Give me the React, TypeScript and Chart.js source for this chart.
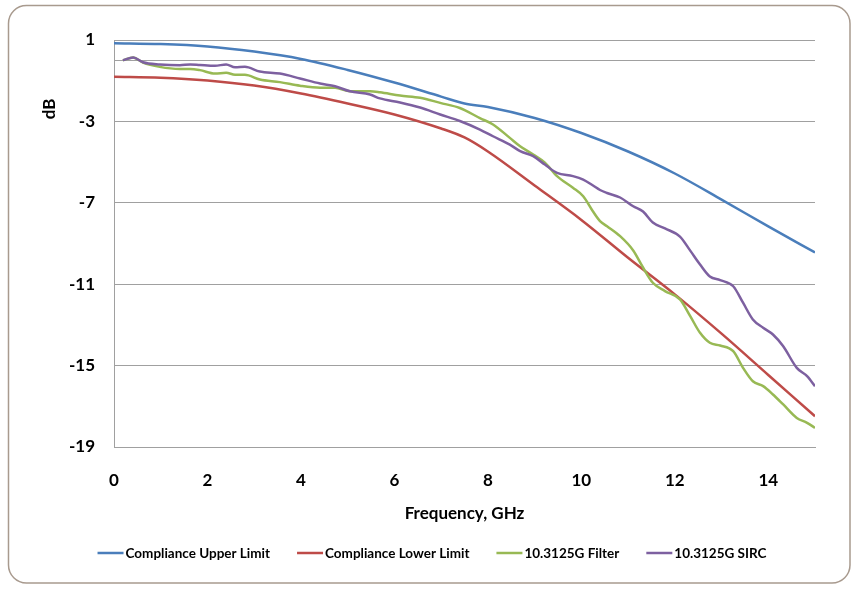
import React, { useEffect, useRef } from "react";
import { Chart, registerables } from "chart.js";

Chart.register(...registerables);

// Series names and line colours
const seriesNames = [
  "Compliance Upper Limit",
  "Compliance Lower Limit",
  "10.3125G Filter",
  "10.3125G SIRC",
];
const seriesColors = ["#4A7EBB", "#BE4B48", "#98B954", "#7D60A0"];

// Compliance mask (GHz / dB)
const limitFreq = [0, 1, 2, 3, 4, 5, 6, 7, 7.5, 8, 9, 10, 11, 12, 13, 14, 15];
const upperLimitDb = [
  0.84, 0.8, 0.68, 0.43, 0.07, -0.47, -1.09, -1.78, -2.12, -2.29, -2.83, -3.57,
  -4.48, -5.56, -6.84, -8.16, -9.44,
];
const lowerLimitDb = [
  -0.8, -0.85, -0.99, -1.24, -1.63, -2.12, -2.66, -3.35, -3.79, -4.48, -6.15,
  -7.84, -9.7, -11.5, -13.43, -15.46, -17.49,
];

// Measured responses (GHz / dB)
const measFreq = [
  0.19, 0.41, 0.62, 0.98, 1.41, 1.63, 1.84, 2.16, 2.4, 2.59, 2.8, 3.12, 3.55,
  3.98, 4.41, 4.73, 5.05, 5.48, 5.69, 6.12, 6.55, 6.98, 7.4, 7.83, 8.11, 8.47,
  8.69, 8.97, 9.22, 9.48, 9.82, 10.04, 10.25, 10.4, 10.55, 10.83, 11.11, 11.32,
  11.53, 11.79, 12.11, 12.33, 12.54, 12.75, 12.97, 13.25, 13.46, 13.67, 13.89,
  14.1, 14.32, 14.61, 14.83, 15.0,
];
const filterDb = [
  0.0, 0.14, -0.11, -0.32, -0.42, -0.42, -0.48, -0.65, -0.61, -0.71, -0.71,
  -0.94, -1.07, -1.25, -1.35, -1.35, -1.52, -1.52, -1.57, -1.73, -1.84, -2.09,
  -2.34, -2.84, -3.15, -3.81, -4.22, -4.63, -5.03, -5.69, -6.26, -6.68, -7.43,
  -7.9, -8.15, -8.64, -9.34, -10.18, -10.93, -11.34, -11.75, -12.57, -13.39,
  -13.88, -14.01, -14.29, -15.11, -15.77, -16.01, -16.42, -16.91, -17.57,
  -17.81, -18.06,
];
const sircDb = [
  0.01, 0.14, -0.09, -0.2, -0.24, -0.2, -0.23, -0.27, -0.2, -0.34, -0.32, -0.55,
  -0.65, -0.89, -1.14, -1.27, -1.52, -1.68, -1.87, -2.07, -2.32, -2.66, -2.98,
  -3.4, -3.73, -4.14, -4.46, -4.71, -5.12, -5.53, -5.69, -5.86, -6.15, -6.37,
  -6.52, -6.74, -7.17, -7.43, -7.97, -8.26, -8.66, -9.35, -10.03, -10.62,
  -10.8, -11.1, -11.91, -12.73, -13.14, -13.47, -14.05, -15.11, -15.52, -16.01,
];

// Axis ticks
const xTickValues = [0, 2, 4, 6, 8, 10, 12, 14];
const yTickValues = [-19, -15, -11, -7, -3, 1];
const yExtraGridValues = [0];

const FONT = "Lato, 'Open Sans', sans-serif";
const GRID = "#A0A0A0";

const toPoints = (xs: number[], ys: number[]) =>
  xs.map((x, i) => ({ x, y: ys[i] }));

const decorPlugin = {
  id: "decor",
  beforeDraw(chart: any) {
    const ctx = chart.ctx as CanvasRenderingContext2D;
    ctx.save();
    ctx.fillStyle = "#ffffff";
    ctx.fillRect(0, 0, chart.width, chart.height);
    const x0 = 8.5, y0 = 5.5, x1 = 850, y1 = 583, r = 18;
    ctx.beginPath();
    ctx.moveTo(x0 + r, y0);
    ctx.lineTo(x1 - r, y0);
    ctx.arcTo(x1, y0, x1, y0 + r, r);
    ctx.lineTo(x1, y1 - r);
    ctx.arcTo(x1, y1, x1 - r, y1, r);
    ctx.lineTo(x0 + r, y1);
    ctx.arcTo(x0, y1, x0, y1 - r, r);
    ctx.lineTo(x0, y0 + r);
    ctx.arcTo(x0, y0, x0 + r, y0, r);
    ctx.closePath();
    ctx.strokeStyle = "#A89A8E";
    ctx.lineWidth = 1.5;
    ctx.stroke();
    ctx.restore();
  },
  afterDraw(chart: any) {
    const ctx = chart.ctx as CanvasRenderingContext2D;
    ctx.save();
    // y-axis title
    ctx.fillStyle = "#000";
    ctx.font = `bold 17px ${FONT}`;
    ctx.textAlign = "center";
    ctx.textBaseline = "middle";
    ctx.translate(50, 109);
    ctx.rotate(-Math.PI / 2);
    ctx.fillText("dB", 0, 0);
    ctx.restore();

    // legend row
    ctx.save();
    ctx.font = `bold 13.5px ${FONT}`;
    ctx.textBaseline = "middle";
    ctx.textAlign = "left";
    const lineLen = 26, gapText = 2, gapItem = 27, yc = 553;
    const widths = seriesNames.map((n) => ctx.measureText(n).width);
    const total =
      widths.reduce((a, w) => a + lineLen + gapText + w, 0) +
      gapItem * (seriesNames.length - 1);
    let x = 432 - total / 2;
    seriesNames.forEach((name, i) => {
      ctx.strokeStyle = seriesColors[i];
      ctx.lineWidth = 2.5;
      ctx.beginPath();
      ctx.moveTo(x, yc);
      ctx.lineTo(x + lineLen, yc);
      ctx.stroke();
      ctx.fillStyle = "#000";
      ctx.fillText(name, x + lineLen + gapText, yc + 0.5);
      x += lineLen + gapText + widths[i] + gapItem;
    });
    ctx.restore();
  },
};

export default function App() {
  const canvasRef = useRef<HTMLCanvasElement | null>(null);

  useEffect(() => {
    document.body.style.margin = "0";
    const canvas = canvasRef.current;
    if (!canvas) return;

    const dataSets = [
      toPoints(limitFreq, upperLimitDb),
      toPoints(limitFreq, lowerLimitDb),
      toPoints(measFreq, filterDb),
      toPoints(measFreq, sircDb),
    ];

    const chart = new Chart(canvas, {
      type: "line",
      data: {
        datasets: dataSets.map((d, i) => ({
          label: seriesNames[i],
          data: d,
          borderColor: seriesColors[i],
          backgroundColor: seriesColors[i],
          borderWidth: 2.5,
          pointRadius: 0,
          fill: false,
          cubicInterpolationMode: "monotone" as const,
          order: seriesNames.length - i,
        })),
      },
      options: {
        responsive: false,
        animation: false,
        events: [],
        layout: { padding: { left: 0, right: 37, top: 40, bottom: 0 } },
        plugins: {
          legend: { display: false },
          tooltip: { enabled: false },
        },
        scales: {
          x: {
            type: "linear",
            min: 0,
            max: 15,
            afterBuildTicks: (s: any) => {
              s.ticks = xTickValues.map((v) => ({ value: v }));
            },
            afterFit: (s: any) => {
              s.height = 143;
            },
            grid: { display: false, drawTicks: false },
            border: { display: true, color: GRID, width: 1 },
            ticks: {
              autoSkip: false,
              maxRotation: 0,
              padding: 23,
              color: "#000",
              font: { family: FONT, size: 17, weight: "bold" },
              callback: (v: any) => String(v),
            },
            title: {
              display: true,
              text: "Frequency, GHz",
              color: "#000",
              font: { family: FONT, size: 17, weight: "bold" },
              padding: { top: 0, bottom: 66 },
            },
          },
          y: {
            type: "linear",
            min: -19,
            max: 1,
            afterBuildTicks: (s: any) => {
              s.ticks = [...yTickValues, ...yExtraGridValues]
                .sort((a, b) => a - b)
                .map((v) => ({ value: v }));
            },
            afterFit: (s: any) => {
              s.width = 114;
            },
            grid: { color: GRID, lineWidth: 1, drawTicks: false },
            border: { display: true, color: GRID, width: 1 },
            ticks: {
              padding: 19,
              color: "#000",
              font: { family: FONT, size: 17, weight: "bold" },
              callback: (v: any) => (yTickValues.includes(v) ? String(v) : ""),
            },
          },
        },
      },
      plugins: [decorPlugin],
    });

    return () => chart.destroy();
  }, []);

  return (
    <div style={{ width: 852, height: 590 }}>
      <canvas ref={canvasRef} width={852} height={590} />
    </div>
  );
}
